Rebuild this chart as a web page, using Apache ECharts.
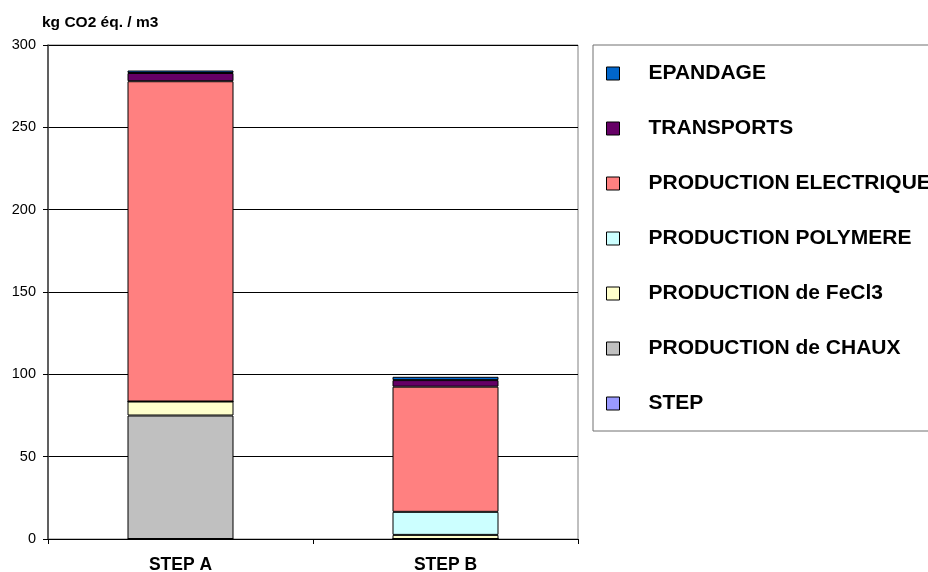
<!DOCTYPE html>
<html>
<head>
<meta charset="utf-8">
<script src="https://cdn.jsdelivr.net/npm/echarts@6/dist/echarts.min.js"></script>
<style>html,body{margin:0;padding:0;background:#fff;}#c{width:928px;height:572px;}</style>
</head>
<body>
<div id="c"></div>
<script>
const categories = ['STEP A', 'STEP B'];
const seriesNames = ['STEP', 'PRODUCTION de CHAUX', 'PRODUCTION de FeCl3', 'PRODUCTION POLYMERE', 'PRODUCTION ELECTRIQUE', 'TRANSPORTS', 'EPANDAGE'];
const stepVals = [0, 0];
const chauxVals = [75, 0];
const fecl3Vals = [8.5, 2.5];
const polymereVals = [0, 14];
const electriqueVals = [194.5, 76];
const transportsVals = [5, 4];
const epandageVals = [1.5, 2];
const yTicks = { min: 0, max: 300, interval: 50 };
const colors = ['#9999FF', '#C0C0C0', '#FFFFCC', '#CCFFFF', '#FF8080', '#660066', '#0066CC'];
const values = [stepVals, chauxVals, fecl3Vals, polymereVals, electriqueVals, transportsVals, epandageVals];

const font = 'Liberation Sans, Arial, sans-serif';
const chart = echarts.init(document.getElementById('c'), null, { renderer: 'canvas' });
chart.setOption({
  animation: false,
  backgroundColor: '#fff',
  title: {
    text: 'kg CO2 éq. / m3',
    left: 37, top: 10,
    textStyle: { fontFamily: font, fontSize: 15.5, fontWeight: 'bold', color: '#000' }
  },
  grid: { left: 48, right: 350, top: 45, bottom: 33, containLabel: false, outerBoundsMode: 'none', show: true, borderColor: '#808080', borderWidth: 1, backgroundColor: 'transparent' },
  legend: {
    orient: 'vertical',
    left: 593, top: 45,
    data: seriesNames.slice().reverse(),
    itemWidth: 13, itemHeight: 13,
    itemGap: 32,
    padding: [17, 200, 16, 13],
    borderColor: '#707070', borderWidth: 1,
    icon: 'rect',
    itemStyle: { borderColor: '#000', borderWidth: 1 },
    textStyle: { fontFamily: font, fontSize: 21, fontWeight: 'bold', color: '#000', lineHeight: 23, padding: [0, 0, 0, 24] }
  },
  xAxis: {
    type: 'category',
    data: categories,
    axisLine: { lineStyle: { color: '#000', width: 1 } },
    axisTick: { show: true, length: 5, lineStyle: { color: '#000' } },
    axisLabel: { fontFamily: font, fontSize: 17.5, fontWeight: 'bold', color: '#000', margin: 17 },
    splitLine: { show: false }
  },
  yAxis: {
    type: 'value',
    min: yTicks.min, max: yTicks.max, interval: yTicks.interval,
    axisLine: { show: true, lineStyle: { color: '#404040', width: 1.5 } },
    axisTick: { show: true, length: 5, lineStyle: { color: '#000' } },
    axisLabel: { fontFamily: font, fontSize: 14.5, color: '#000', margin: 12 },
    splitLine: { show: true, lineStyle: { color: '#000', width: 1 } }
  },
  series: seriesNames.map((n, i) => ({
    name: n,
    type: 'bar',
    stack: 'total',
    barWidth: '40%',
    data: values[i],
    itemStyle: { color: colors[i], borderColor: '#000', borderWidth: 1 }
  }))
});
</script>
</body>
</html>
